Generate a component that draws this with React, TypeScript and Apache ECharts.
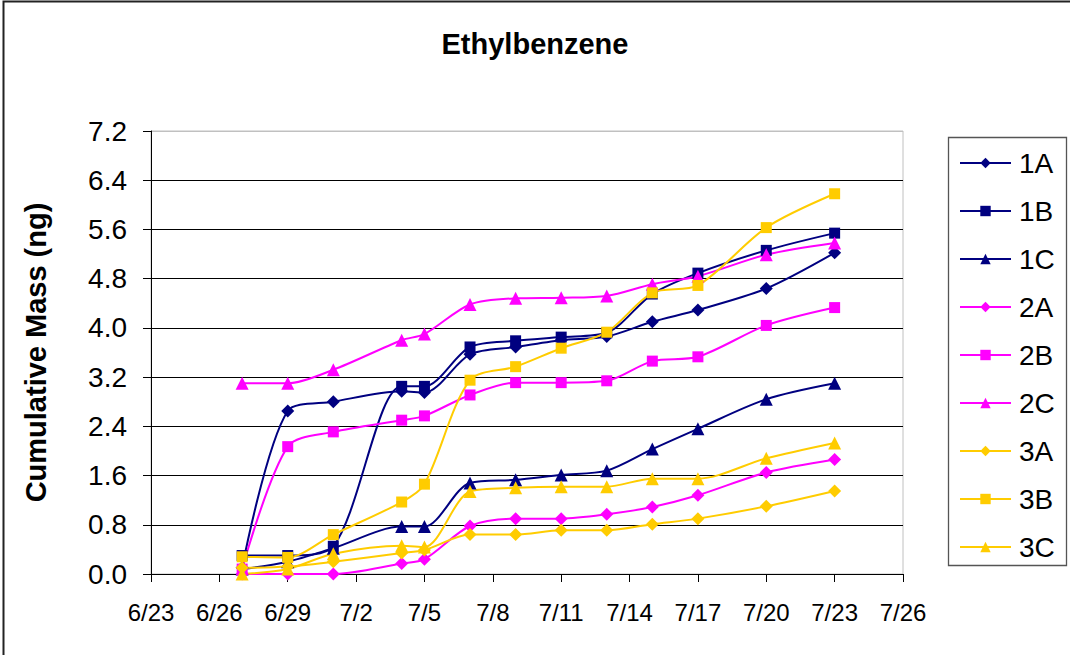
import React, { useEffect, useRef } from "react";
import * as echarts from "echarts";

const dates = ["6/27", "6/29", "7/1", "7/4", "7/5", "7/7", "7/9", "7/11", "7/13", "7/15", "7/17", "7/20", "7/23"];

const s1A = [0.10, 2.65, 2.80, 2.97, 2.95, 3.57, 3.69, 3.80, 3.86, 4.10, 4.29, 4.64, 5.22];
const s1B = [0.30, 0.30, 0.45, 3.05, 3.05, 3.69, 3.79, 3.85, 3.92, 4.55, 4.89, 5.26, 5.54];
const s1C = [0.08, 0.20, 0.42, 0.77, 0.77, 1.48, 1.53, 1.61, 1.68, 2.03, 2.36, 2.84, 3.10];
const s2A = [0.00, 0.00, 0.00, 0.17, 0.24, 0.78, 0.90, 0.90, 0.97, 1.09, 1.28, 1.65, 1.86];
const s2B = [0.08, 2.07, 2.31, 2.50, 2.57, 2.91, 3.11, 3.11, 3.14, 3.46, 3.53, 4.04, 4.33];
const s2C = [3.10, 3.10, 3.32, 3.80, 3.90, 4.38, 4.48, 4.49, 4.52, 4.71, 4.84, 5.19, 5.38];
const s3A = [0.10, 0.12, 0.20, 0.34, 0.39, 0.64, 0.64, 0.71, 0.71, 0.81, 0.90, 1.10, 1.35];
const s3B = [0.28, 0.27, 0.64, 1.17, 1.46, 3.15, 3.37, 3.67, 3.93, 4.57, 4.69, 5.63, 6.18];
const s3C = [0.00, 0.08, 0.33, 0.46, 0.44, 1.34, 1.40, 1.42, 1.42, 1.55, 1.55, 1.88, 2.13];

const seriesNames = ["1A", "1B", "1C", "2A", "2B", "2C", "3A", "3B", "3C"];
const seriesValues = [s1A, s1B, s1C, s2A, s2B, s2C, s3A, s3B, s3C];
const seriesColors = ["#000080", "#000080", "#000080", "#ff00ff", "#ff00ff", "#ff00ff", "#ffcc00", "#ffcc00", "#ffcc00"];
const seriesSymbols = ["diamond", "rect", "triangle", "diamond", "rect", "triangle", "diamond", "rect", "triangle"];

const xStart = "6/23";
const xEnd = "7/26";
const xStepDays = 3;
const yMin = 0;
const yMax = 7.2;
const yStep = 0.8;

const FONT = "'Liberation Sans', Arial, Helvetica, sans-serif";

function dayOfYear(md: string): number {
  const [m, d] = md.split("/").map(Number);
  const cum = [0, 31, 59, 90, 120, 151, 181, 212, 243, 273, 304, 334];
  return cum[m - 1] + d;
}
const base = dayOfYear(xStart);
function offsetToLabel(off: number): string {
  const doy = base + off;
  const cum = [0, 31, 59, 90, 120, 151, 181, 212, 243, 273, 304, 334, 365];
  let m = 0;
  while (m < 12 && cum[m + 1] < doy) m++;
  return `${m + 1}/${doy - cum[m]}`;
}

export default function App() {
  const ref = useRef<HTMLDivElement>(null);
  useEffect(() => {
    document.body.style.margin = "0";
    const chart = echarts.init(ref.current!, null, { renderer: "svg" });
    const yLineCount = Math.round((yMax - yMin) / yStep) + 1;
    const splitColors = Array.from({ length: yLineCount }, (_, i) => (i === yLineCount - 1 ? "#c0c0c0" : "#000000"));
    const symbolSizes: Record<string, number> = { diamond: 13, rect: 11, triangle: 13 };
    chart.setOption({
      animation: false,
      backgroundColor: "#ffffff",
      textStyle: { fontFamily: FONT },
      title: {
        text: "Ethylbenzene",
        left: "center",
        top: 29,
        padding: 0,
        textStyle: { fontFamily: FONT, fontSize: 29, fontWeight: "bold", color: "#000" },
      },
      grid: {
        left: 151,
        right: 167,
        top: 131,
        bottom: 81,
        show: true,
        borderColor: "#c0c0c0",
        borderWidth: 1,
        backgroundColor: "transparent",
      },
      legend: {
        orient: "vertical",
        left: 959,
        top: 149,
        padding: 0,
        itemWidth: 51,
        itemHeight: 13,
        itemGap: 20,
        data: seriesNames,
        textStyle: { fontFamily: FONT, fontSize: 28, color: "#000", lineHeight: 28, padding: [0, 0, 0, 3] },
      },
      graphic: [
        {
          type: "rect",
          shape: { x: 3.5, y: 1.5, width: 1200, height: 800 },
          style: { fill: "none", stroke: "#222", lineWidth: 2 },
          silent: true,
        },
        {
          type: "rect",
          shape: { x: 948.5, y: 137.5, width: 118, height: 428 },
          style: { fill: "none", stroke: "#555", lineWidth: 1.3 },
          silent: true,
        },
      ],
      xAxis: {
        type: "value",
        min: 0,
        max: dayOfYear(xEnd) - base,
        interval: xStepDays,
        axisLine: { show: true, onZero: false, lineStyle: { color: "#000", width: 1 } },
        axisTick: { show: true, length: 8, lineStyle: { color: "#000" } },
        splitLine: { show: false },
        axisLabel: {
          margin: 26,
          fontFamily: FONT,
          fontSize: 24,
          color: "#000",
          formatter: (v: number) => offsetToLabel(v),
        },
      },
      yAxis: {
        type: "value",
        min: yMin,
        max: yMax,
        interval: yStep,
        name: "Cumulative Mass (ng)",
        nameLocation: "middle",
        nameGap: 101,
        nameRotate: 90,
        nameTextStyle: { fontFamily: FONT, fontSize: 29, fontWeight: "bold", color: "#000" },
        axisLine: { show: true, lineStyle: { color: "#000", width: 1 } },
        axisTick: { show: true, length: 8, lineStyle: { color: "#000" } },
        splitLine: { show: true, lineStyle: { color: splitColors, width: 1 } },
        axisLabel: {
          margin: 24,
          fontFamily: FONT,
          fontSize: 28,
          color: "#000",
          formatter: (v: number) => v.toFixed(1),
        },
      },
      series: seriesNames.map((name, i) => ({
        name,
        type: "line",
        smooth: 0.3,
        symbol: seriesSymbols[i],
        symbolSize: symbolSizes[seriesSymbols[i]],
        showAllSymbol: true,
        color: seriesColors[i],
        lineStyle: { color: seriesColors[i], width: 2 },
        itemStyle: { color: seriesColors[i] },
        data: dates.map((d, j) => [dayOfYear(d) - base, seriesValues[i][j]]),
      })),
    });
    return () => chart.dispose();
  }, []);
  return <div ref={ref} style={{ width: 1070, height: 655 }} />;
}
